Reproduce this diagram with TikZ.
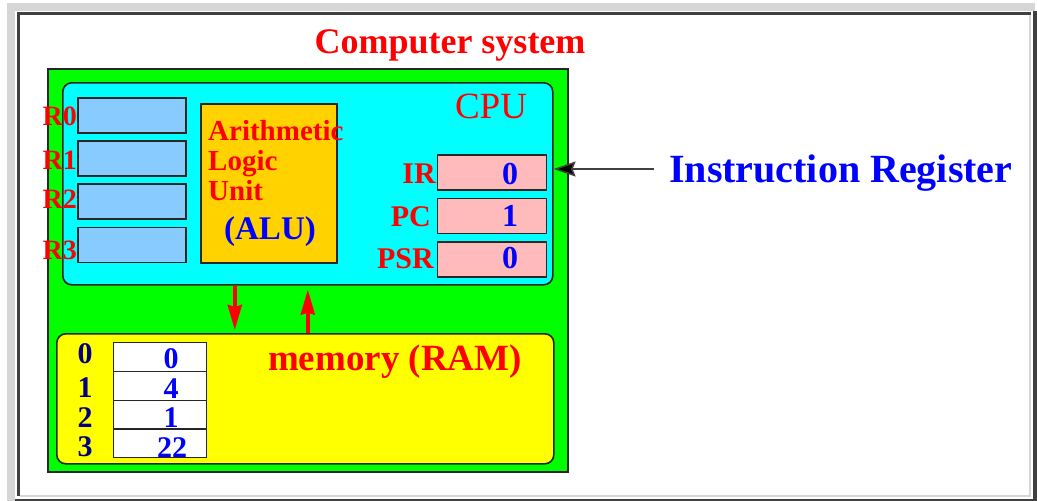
\documentclass[tikz,border=0pt]{standalone}
\usepackage{fontspec}
\setmainfont{Liberation Serif}
\usetikzlibrary{arrows.meta}
\definecolor{framelight}{HTML}{D6D6D6}
\definecolor{framedark}{HTML}{404040}
\definecolor{sysgreen}{HTML}{00FF00}
\definecolor{cpucyan}{HTML}{00FFFF}
\definecolor{regblue}{HTML}{88CCFF}
\definecolor{alugold}{HTML}{FFD200}
\definecolor{pinkreg}{HTML}{FFBBBB}
\definecolor{memyellow}{HTML}{FFFF00}
\definecolor{tred}{HTML}{FF0000}
\definecolor{tblue}{HTML}{0000FF}
\definecolor{tnavy}{HTML}{000080}
\newcommand\pxfont[1]{\fontsize{#1}{#1}\selectfont}
\tikzset{
  box/.style={draw=black!85, line width=1.6pt, inner sep=0pt, anchor=north west},
  sysbox/.style={box, fill=sysgreen},
  cpubox/.style={box, fill=cpucyan, rounded corners=9pt},
  membox/.style={box, fill=memyellow, rounded corners=9pt},
  regbox/.style={box, fill=regblue, minimum width=108pt, minimum height=35pt},
  alubox/.style={box, fill=alugold},
  pinkbox/.style={box, fill=pinkreg, minimum width=109pt, minimum height=35pt},
  cellbox/.style={box, fill=white, line width=1.3pt, minimum width=93pt, minimum height=28.75pt},
  lbl/.style={inner sep=0pt, font=\bfseries\pxfont{28}, text=tred},
  val/.style={inner sep=0pt, anchor=base, font=\bfseries\pxfont{32}, text=tblue},
  memval/.style={inner sep=0pt, anchor=base, font=\bfseries\pxfont{30}, text=tblue},
  addr/.style={inner sep=0pt, anchor=base, font=\bfseries\pxfont{30}, text=tnavy},
  redarrow/.style={draw=tred, line width=4pt, -{Stealth[length=25pt,width=14pt,inset=2pt]}},
  blackarrow/.style={draw=framedark, line width=1.5pt, -{Stealth[length=22pt,width=15pt,inset=3pt,fill=black]}}
}
\begin{document}
\begin{tikzpicture}[x=1pt,y=-1pt]
\useasboundingbox (0,0) rectangle (1037,501);
\fill[white] (0,0) rectangle (1037,501);
% page frame
\fill[framelight] (7,3) rectangle (1035,10.5);
\fill[framelight] (7,3) rectangle (15,501);
\fill[framedark] (16.5,12) rectangle (1031,15);
\fill[framedark] (16.5,12) rectangle (19.5,496);
\fill[framelight] (1028.5,15) rectangle (1031,496.5);
\fill[framelight] (19.5,494.5) rectangle (1031,497);
\fill[framedark] (1032.5,11) rectangle (1037,501);
\fill[framedark] (15,499) rectangle (1037,501);

% title
\node[inner sep=0pt, anchor=base, font=\bfseries\pxfont{36}, text=tred] (title) at (450,53) {Computer system};

% system, cpu, memory
\node[sysbox, minimum width=520pt, minimum height=403pt] (sys) at (47,68) {};
\node[cpubox, minimum width=490pt, minimum height=202pt] (cpu) at (62,82) {};
\node[membox, minimum width=497pt, minimum height=130pt] (mem) at (56,333) {};

\node[inner sep=0pt, anchor=base, font=\pxfont{37}, text=tred] (cputext) at (491,118) {CPU};

% general registers
\node[regbox] (r0) at (77,97) {};
\node[regbox] (r1) at (77,140) {};
\node[regbox] (r2) at (77,183) {};
\node[regbox] (r3) at (77,226.5) {};
\node[lbl, anchor=base east] (r0l) at (77,125) {R0};
\node[lbl, anchor=base east] (r1l) at (77,169) {R1};
\node[lbl, anchor=base east] (r2l) at (77,208) {R2};
\node[lbl, anchor=base east] (r3l) at (77,259) {R3};

% ALU
\node[alubox, minimum width=136pt, minimum height=159pt] (alu) at (200,103) {};
\node[lbl, anchor=base west, font=\bfseries\pxfont{29}] (alu1) at (208,140) {Arithmetic};
\node[lbl, anchor=base west, font=\bfseries\pxfont{29}] (alu2) at (208,170) {Logic};
\node[lbl, anchor=base west, font=\bfseries\pxfont{29}] (alu3) at (208,200) {Unit};
\node[inner sep=0pt, anchor=base, font=\bfseries\pxfont{33}, text=tblue] (alu4) at (270,239) {(ALU)};

% special registers
\node[pinkbox] (ir) at (436.5,154) {};
\node[pinkbox] (pc) at (436.5,197.5) {};
\node[pinkbox] (psr) at (436.5,241) {};
\node[lbl, anchor=base east, font=\bfseries\pxfont{30}] (irl) at (436,183) {IR};
\node[lbl, anchor=base east, font=\bfseries\pxfont{30}] (pcl) at (431,226) {PC};
\node[lbl, anchor=base east, font=\bfseries\pxfont{30}] (psrl) at (434,268) {PSR};
\node[val] (irv) at (510,184) {0};
\node[val] (pcv) at (510,226) {1};
\node[val] (psrv) at (510,268) {0};

% instruction register pointer
\node[inner sep=0pt, anchor=base west, font=\bfseries\pxfont{40}, text=tblue] (irtext) at (669,182) {Instruction Register};
\coordinate (irtail) at (654,169);
\draw[blackarrow] (irtail) -- (irtail -| cpu.east);

% memory
\node[inner sep=0pt, anchor=base, font=\bfseries\pxfont{37}, text=tred] (memtext) at (395,370) {memory (RAM)};
\node[cellbox] (m0) at (113,342) {};
\node[cellbox] (m1) at (113,370.75) {};
\node[cellbox] (m2) at (113,399.5) {};
\node[cellbox] (m3) at (113,428.25) {};
\node[memval] (m0v) at (171,368) {0};
\node[memval] (m1v) at (171,398) {4};
\node[memval] (m2v) at (171,427) {1};
\node[memval] (m3v) at (172,457) {22};
\node[addr] (a0) at (85,363) {0};
\node[addr] (a1) at (85,397) {1};
\node[addr] (a2) at (85,427) {2};
\node[addr] (a3) at (85,456) {3};

% cpu <-> memory arrows
\draw[redarrow, shorten >=3pt] ([xshift=-73pt]cpu.south) -- ([xshift=-73pt]cpu.south |- mem.north);
\draw[redarrow, shorten >=4pt] (mem.north -| cpu.south) -- (cpu.south);
\end{tikzpicture}
\end{document}
